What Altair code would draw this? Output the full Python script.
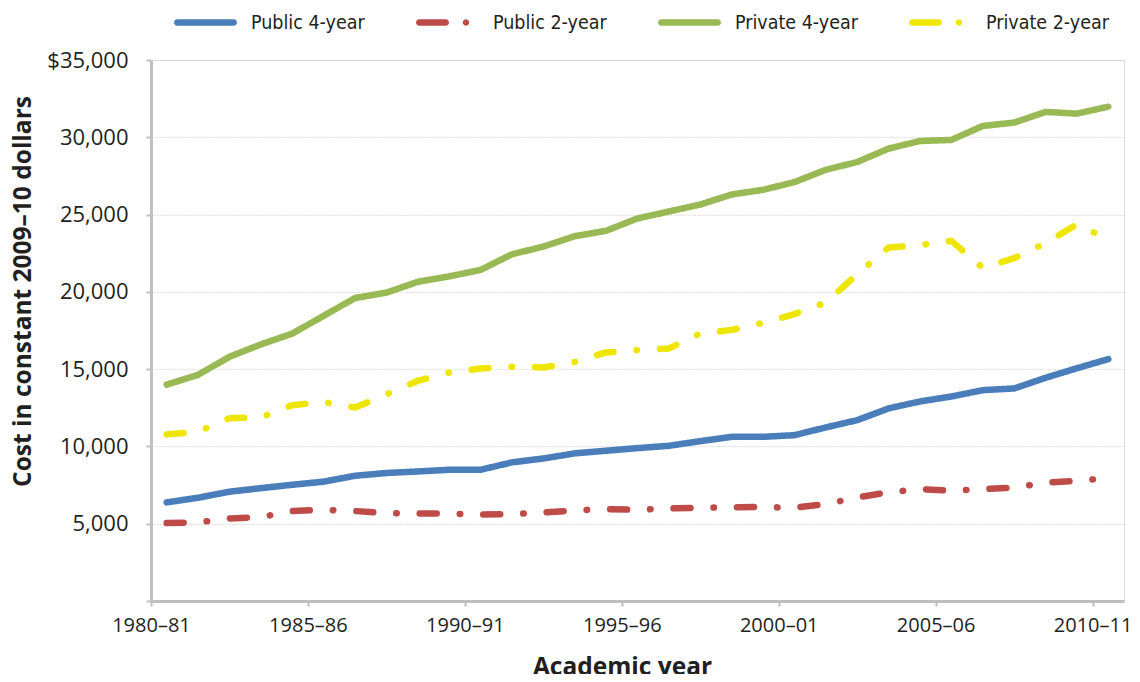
import altair as alt
import pandas as pd

years = ["1980–81", "1981–82", "1982–83", "1983–84", "1984–85", "1985–86", "1986–87",
         "1987–88", "1988–89", "1989–90", "1990–91", "1991–92", "1992–93", "1993–94",
         "1994–95", "1995–96", "1996–97", "1997–98", "1998–99", "1999–2000", "2000–01",
         "2001–02", "2002–03", "2003–04", "2004–05", "2005–06", "2006–07", "2007–08",
         "2008–09", "2009–10", "2010–11"]

series_names = ["Public 4-year", "Public 2-year", "Private 4-year", "Private 2-year"]

pub4 = [6380, 6680, 7070, 7300, 7520, 7720, 8100, 8280, 8380, 8490, 8490, 8970, 9220, 9550,
        9720, 9890, 10040, 10340, 10620, 10620, 10730, 11230, 11700, 12460, 12910, 13230,
        13640, 13750, 14440, 15060, 15650]
pub2 = [5040, 5090, 5340, 5430, 5820, 5900, 5820, 5690, 5670, 5650, 5600, 5620, 5730, 5860,
        5950, 5900, 5990, 6030, 6060, 6080, 6030, 6270, 6700, 7030, 7240, 7130, 7240, 7330,
        7650, 7780, 7950]
priv4 = [14000, 14630, 15800, 16600, 17300, 18450, 19600, 19950, 20650, 21000, 21420, 22430,
         22930, 23600, 23950, 24750, 25200, 25650, 26300, 26600, 27100, 27900, 28400, 29270,
         29760, 29830, 30730, 30950, 31640, 31530, 31980]
priv2 = [10780, 10950, 11830, 11870, 12670, 12870, 12520, 13360, 14250, 14780, 15040, 15150,
         15110, 15470, 16080, 16230, 16340, 17300, 17540, 18000, 18560, 19310, 21140, 22870,
         23020, 23300, 21550, 22180, 23150, 24370, 23400]

x_tick_positions = [0, 5, 10, 15, 20, 25, 30]
y_ticks = [0, 5000, 10000, 15000, 20000, 25000, 30000, 35000]

colors = ["#4A7EBB", "#BE4B48", "#98B954", "#EEE600"]
dashes = [[1, 0], [17, 23, 0.5, 23], [1, 0], [17, 23, 0.5, 23]]

# legend swatches (unit-square symbol paths): a solid rounded bar, and a dash followed by a dot
solid_path = ("M-0.897,-0.103L0.897,-0.103A0.103,0.103,0,0,1,0.897,0.103"
              "L-0.897,0.103A0.103,0.103,0,0,1,-0.897,-0.103Z")
dash_path = ("M-0.897,-0.103L-0.055,-0.103A0.103,0.103,0,0,1,-0.055,0.103"
             "L-0.897,0.103A0.103,0.103,0,0,1,-0.897,-0.103Z"
             "M0.484,0A0.103,0.103,0,1,1,0.690,0A0.103,0.103,0,1,1,0.484,0Z")
swatches = [solid_path, dash_path, solid_path, dash_path]

rows = []
for name, vals in zip(series_names, [pub4, pub2, priv4, priv2]):
    for i, (yr, v) in enumerate(zip(years, vals)):
        rows.append({"series": name, "pos": i + 0.5, "year": yr, "cost": v})
df = pd.DataFrame(rows)

label_expr = "[" + ",".join("'" + y + "'" for y in years) + "][datum.value]"
y_label_expr = ("datum.value == 35000 ? '$35,000' : (datum.value == 0 ? '' : "
                "format(datum.value, ','))")

FONT = "Open Sans"
TXT = "#231f20"
AXC = "#bfbfbf"

legend = alt.Legend(
    orient="none", legendX=23, legendY=-69, direction="horizontal", title=None,
    symbolSize=3969, symbolStrokeWidth=0, symbolOpacity=1,
    labelFont="Liberation Sans Narrow, DejaVu Sans Condensed, sans-serif",
    labelFontSize=19.5, labelColor=TXT, columnPadding=50, labelOffset=14,
)

x_enc = alt.X("pos:Q",
              scale=alt.Scale(domain=[0, 31], nice=False, zero=False),
              axis=alt.Axis(values=x_tick_positions, labelExpr=label_expr,
                            title="Academic year", grid=False,
                            domainColor=AXC, domainWidth=3, tickColor=AXC, tickWidth=2,
                            tickSize=5, labelFont=FONT, labelFontSize=20, labelColor=TXT,
                            labelPadding=9, titleFont=FONT, titleFontSize=24.5,
                            titleFontWeight="bold", titleColor=TXT, titleX=471, titleY=54,
                            titleBaseline="top", labelFlush=False))
y_enc = alt.Y("cost:Q",
              scale=alt.Scale(domain=[0, 35000], nice=False),
              axis=alt.Axis(values=y_ticks, labelExpr=y_label_expr,
                            title="Cost in constant 2009–10 dollars", grid=True,
                            gridColor="#c4c4c4", gridDash=[1, 2], gridWidth=1,
                            domainColor=AXC, domainWidth=3, tickColor=AXC, tickWidth=2,
                            tickSize=5, labelFont=FONT, labelFontSize=22, labelColor=TXT,
                            labelPadding=18, titleFont=FONT, titleFontSize=24.5,
                            titleFontWeight="bold", titleColor=TXT, titleX=-121,
                            titleY=231, titleAngle=-90, titleBaseline="alphabetic"))

lines = alt.Chart(df).mark_line(
    strokeWidth=6.5, strokeCap="round", strokeJoin="round"
).encode(
    x=x_enc, y=y_enc,
    color=alt.Color("series:N", sort=series_names,
                    scale=alt.Scale(domain=series_names, range=colors), legend=None),
    strokeDash=alt.StrokeDash("series:N", sort=series_names,
                              scale=alt.Scale(domain=series_names, range=dashes),
                              legend=None),
)

# legend carrier: no rows survive the filter, it only supplies the legend swatches
legend_layer = alt.Chart(df).transform_filter("datum.cost < 0").mark_point(
    filled=True, size=3969, opacity=1, strokeWidth=0
).encode(
    x=alt.X("pos:Q"), y=alt.Y("cost:Q"),
    color=alt.Color("series:N", sort=series_names,
                    scale=alt.Scale(domain=series_names, range=colors), legend=legend),
    shape=alt.Shape("series:N", sort=series_names,
                    scale=alt.Scale(domain=series_names, range=swatches), legend=legend),
)

chart = alt.layer(lines, legend_layer).resolve_scale(
    color="independent", shape="independent", strokeDash="independent"
).resolve_legend(
    color="independent", shape="independent", strokeDash="independent"
).properties(
    width=973, height=541,
    autosize=alt.AutoSizeParams(type="none"),
    padding={"left": 143, "top": 52, "right": 8, "bottom": 73},
).configure_view(stroke=None).configure(background="white")

chart.save("out.html", embed_options={"renderer": "svg", "actions": False})
